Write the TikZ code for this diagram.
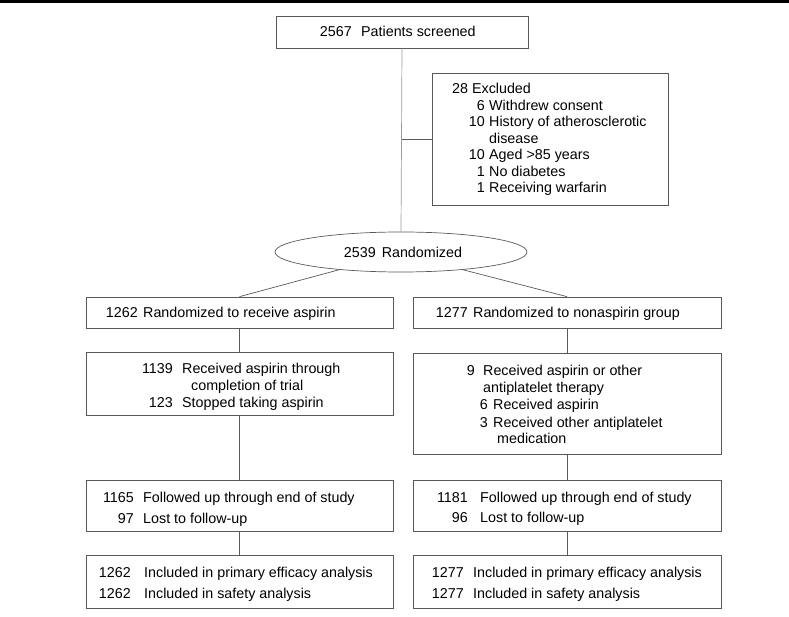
\documentclass[tikz,border=0pt]{standalone}
\usepackage{fontspec}
\setmainfont{Liberation Sans}
\usetikzlibrary{shapes.geometric}
\newcommand{\fs}{\fontsize{14.3}{16}\selectfont}
\tikzset{
  box/.style={draw=black!65, line width=0.7pt, rectangle, inner sep=0pt},
  ellbox/.style={draw=black!65, line width=0.7pt, ellipse, inner sep=0pt, minimum width=252pt, minimum height=40pt},
  conn/.style={draw=black!65, line width=0.7pt},
  txt/.style={inner sep=0pt, anchor=base west, font=\fs},
  num/.style={inner sep=0pt, anchor=base east, font=\fs},
  ctxt/.style={font=\fs}
}
\newcommand{\nl}[6]{%
  \node[num] (#1n) at (#2,#4) {#5};
  \node[txt] (#1t) at (#3,#4) {#6};}
\begin{document}
\begin{tikzpicture}[x=1pt,y=-1pt]
\useasboundingbox (0,0) rectangle (789,617);
% top rule
\draw[line width=2.5pt] (0,1.3) -- (789,1.3);

% boxes
\node[box, minimum width=252pt, minimum height=32pt] (scr) at (402,32) {};
\node[box, minimum width=236pt, minimum height=132pt] (exc) at (550,139) {};
\node[ellbox, ctxt] (ell) at (401,252) {\hspace{4pt}2539\hspace{6pt}Randomized};
\node[box, minimum width=307pt, minimum height=31pt] (A1) at (239.5,312.5) {};
\node[box, minimum width=308pt, minimum height=31pt] (B1) at (567,312.5) {};
\node[box, minimum width=307pt, minimum height=63pt] (A2) at (239.5,383.5) {};
\node[box, minimum width=308pt, minimum height=101pt] (B2) at (567,403.5) {};
\node[box, minimum width=307pt, minimum height=51pt] (A3) at (239.5,505.5) {};
\node[box, minimum width=308pt, minimum height=51pt] (B3) at (567,505.5) {};
\node[box, minimum width=307pt, minimum height=53pt] (A4) at (239.5,581.5) {};
\node[box, minimum width=308pt, minimum height=53pt] (B4) at (567,581.5) {};

% screened
\nl{sc}{352}{361}{37}{2567}{Patients screened}

% excluded text
\node[txt] (exh) at (452,94) {28 Excluded};
\nl{ex1}{485}{489}{110.5}{6}{Withdrew consent}
\nl{ex2}{485}{489}{127}{10}{History of atherosclerotic}
\node[txt] (ex2b) at (489,143.5) {disease};
\nl{ex3}{485}{489}{160}{10}{Aged >85 years}
\nl{ex4}{485}{489}{176.5}{1}{No diabetes}
\nl{ex5}{485}{489}{193}{1}{Receiving warfarin}

% A1 / B1
\nl{a11}{138}{143}{318}{1262}{Randomized to receive aspirin}
\nl{b11}{468}{473}{318}{1277}{Randomized to nonaspirin group}

% A2
\nl{a21}{173}{182}{373}{1139}{Received aspirin through}
\node[txt] (a21b) at (191,390) {completion of trial};
\nl{a22}{173}{182}{407}{123}{Stopped taking aspirin}

% B2
\nl{b21}{475}{483}{375}{9}{Received aspirin or other}
\node[txt] (b21b) at (483,392) {antiplatelet therapy};
\nl{b22}{488}{493}{409}{6}{Received aspirin}
\nl{b23}{488}{493}{427}{3}{Received other antiplatelet}
\node[txt] (b23b) at (497,443) {medication};

% A3 / B3
\nl{a31}{134}{143}{502}{1165}{Followed up through end of study}
\nl{a32}{134}{143}{523}{97}{Lost to follow-up}
\nl{b31}{468}{480}{502}{1181}{Followed up through end of study}
\nl{b32}{468}{480}{522}{96}{Lost to follow-up}

% A4 / B4
\nl{a41}{131}{144}{577}{1262}{Included in primary efficacy analysis}
\nl{a42}{131}{144}{598}{1262}{Included in safety analysis}
\nl{b41}{464}{473}{577}{1277}{Included in primary efficacy analysis}
\nl{b42}{464}{473}{598}{1277}{Included in safety analysis}

% connectors
\coordinate (J) at (scr.south |- exc.west);
\draw[conn, draw=black!40] (scr.south) -- (ell.north);
\draw[conn] (J) -- (exc.west);
\draw[conn] (ell.196) -- (A1.north);
\draw[conn] (ell.-16) -- (B1.north);
\draw[conn] (A1.south) -- (A2.north);
\draw[conn] (A2.south) -- (A3.north);
\draw[conn] (A3.south) -- (A4.north);
\draw[conn] (B1.south) -- (B2.north);
\draw[conn] (B2.south) -- (B3.north);
\draw[conn] (B3.south) -- (B4.north);
\end{tikzpicture}
\end{document}
